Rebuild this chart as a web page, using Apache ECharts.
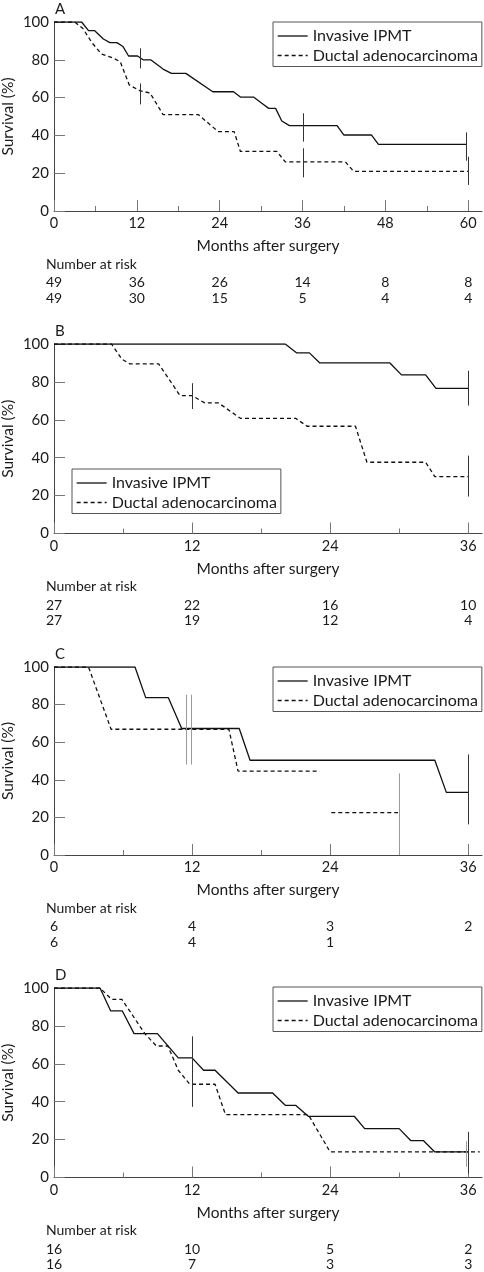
<!DOCTYPE html>
<html>
<head>
<meta charset="utf-8">
<script src="https://cdn.jsdelivr.net/npm/echarts@6/dist/echarts.min.js"></script>
<style>
  html, body { margin: 0; padding: 0; background: #fff; }
  #chart { width: 484px; height: 1272px; }
</style>
</head>
<body>
<div id="chart"></div>
<script>
// ---------------- DATA ----------------
const seriesNames = ['Invasive IPMT', 'Ductal adenocarcinoma'];
const panelLabels = ['A', 'B', 'C', 'D'];
const yAxisTitle = 'Survival (%)';
const xAxisTitle = 'Months after surgery';
const riskTitle = 'Number at risk';
const xTicksA = [0, 12, 24, 36, 48, 60];
const xMinorA = [6, 18, 30, 42, 54];
const xTicksBCD = [0, 12, 24, 36];
const xMinorBCD = [6, 18, 30];
const yTicks = [0, 20, 40, 60, 80, 100];

// Panel A  (months, survival %)
const ipmtA = [[0,100],[4,100],[5,95.4],[5.9,95.4],[7.15,91],[8.1,89.1],[9.1,89.1],[10,87],[10.8,82],[12.1,82],[12.9,80],[14,80],[15.8,75.1],[17,72.8],[19.1,72.8],[23,63.1],[26,63.1],[27,60.3],[28.9,60.3],[30.1,57],[31.1,54.3],[32.1,54.3],[33,47.6],[34.1,45.2],[41,45.2],[42,40.2],[46,40.2],[47,35.3],[59.7,35.3]];
const ductalA = [[0,100],[3,100],[4.2,96.5],[5.5,89],[6.9,83],[8.5,81],[9.6,79],[10.9,66.7],[12.5,63.5],[13.9,62.5],[15.8,51],[20.9,51],[22.5,46],[23.8,42],[26.1,42],[27,31.5],[32.3,31.5],[33.5,26],[42.2,26],[43.4,21],[60,21]];
const censorDarkA = [[12.46,75.5,86.1],[12.46,56.4,67.5],[36,36.7,51.7],[36,17.8,33.2],[59.7,26.6,41.6],[60,13.8,28.7]];
const censorLightA = [];
const riskIpmtA = [49, 36, 26, 14, 8, 8];
const riskDuctalA = [49, 30, 15, 5, 4, 4];

// Panel B
const ipmtB = [[0,100],[20.1,100],[21.1,95.3],[22.2,95.3],[23.1,90],[29.2,90],[30.2,83.7],[32.3,83.7],[33.2,76.6],[36,76.6]];
const ductalB = [[0,100],[5,100],[5.9,92],[6.6,89.5],[9.1,89.5],[10.95,72.8],[12,72.8],[13.1,68.9],[14.3,68.9],[16.2,60.8],[21,60.8],[22,56.6],[26.2,56.6],[27.2,37.6],[32.3,37.6],[33.1,30],[36,30]];
const censorDarkB = [[36,67.5,85.9],[12,65.7,79.3],[36,19.5,41.1]];
const censorLightB = [];
const riskIpmtB = [27, 22, 16, 10];
const riskDuctalB = [27, 19, 12, 4];

// Panel C
const ipmtC = [[0,100],[7.04,100],[7.97,83.7],[9.94,83.7],[11.1,67.3],[16.1,67.3],[17.04,50.4],[33.1,50.4],[34.1,33.3],[36,33.3]];
const ductalC = [[0,100],[3,100],[4.96,66.9],[15.2,66.9],[16,44.6],[23.1,44.6],[23.6,'-'],[24.1,22.5],[29.9,22.5]];
const censorDarkC = [[36,16.3,53.5]];
const censorLightC = [[11.45,48.1,85.3],[11.9,48.1,85.3],[30,0,43.4]];
const riskIpmtC = [6, 4, 3, 2];
const riskDuctalC = [6, 4, 1];

// Panel D
const ipmtD = [[0,100],[4,100],[4.93,87.9],[5.94,87.9],[6.96,75.9],[8.99,75.9],[10.8,63.1],[12,63.1],[13,56.6],[14,56.6],[16,44.6],[19,44.6],[20.1,38.1],[21,38.1],[22.1,32.3],[26.1,32.3],[27,25.8],[30,25.8],[31,19.5],[32.1,19.5],[33.1,13.5],[36,13.5]];
const ductalD = [[0,100],[4,100],[5,94],[5.9,94],[7.9,75.9],[8.9,69.4],[9.9,69.4],[10.8,56.6],[11.8,49.2],[14,49.2],[14.9,33.2],[22.1,33.2],[24,13.5],[37,13.5]];
const censorDarkD = [[12,37.3,74.5],[36,2.1,24.1]];
const censorLightD = [[35.8,5.6,19.2]];
const riskIpmtD = [16, 10, 5, 2];
const riskDuctalD = [16, 7, 3, 3];

// ---------------- LAYOUT / STYLE ----------------
const FONT = 'Lato, "Noto Sans", sans-serif';
const TXT = '#1a1a1a';
const AX = '#444';
const TICK = '#777';
const LINE = '#111';

const panels = [
  { top: 22,  height: 189,   max: 62,   ticks: xTicksA,   minor: xMinorA,   legend: {left: 273, top: 22},
    ipmt: ipmtA, ductal: ductalA, cDark: censorDarkA, cLight: censorLightA, r1: riskIpmtA, r2: riskDuctalA },
  { top: 344, height: 189.5, max: 37.2, ticks: xTicksBCD, minor: xMinorBCD, legend: {left: 72, top: 469},
    ipmt: ipmtB, ductal: ductalB, cDark: censorDarkB, cLight: censorLightB, r1: riskIpmtB, r2: riskDuctalB },
  { top: 667, height: 188,   max: 37.2, ticks: xTicksBCD, minor: xMinorBCD, legend: {left: 273, top: 667},
    ipmt: ipmtC, ductal: ductalC, cDark: censorDarkC, cLight: censorLightC, r1: riskIpmtC, r2: riskDuctalC },
  { top: 988, height: 189.5, max: 37.2, ticks: xTicksBCD, minor: xMinorBCD, legend: {left: 273, top: 987},
    ipmt: ipmtD, ductal: ductalD, cDark: censorDarkD, cLight: censorLightD, r1: riskIpmtD, r2: riskDuctalD }
];

const GRID_LEFT = 54, GRID_WIDTH = 428;

const grids = [], xAxes = [], yAxes = [], series = [], legends = [], graphics = [];

function censorSeries(data, color, xi, yi) {
  return {
    type: 'custom', name: 'censor', xAxisIndex: xi, yAxisIndex: yi,
    data: data, encode: { x: 0, y: [1, 2] }, silent: true, z: 3,
    renderItem: function (params, api) {
      const p1 = api.coord([api.value(0), api.value(1)]);
      const p2 = api.coord([api.value(0), api.value(2)]);
      const x = Math.round(p1[0]) + 0.5;
      return { type: 'line', shape: { x1: x, y1: p1[1], x2: x, y2: p2[1] },
               style: { stroke: color, lineWidth: 1 } };
    }
  };
}

panels.forEach((p, i) => {
  grids.push({ left: GRID_LEFT, top: p.top, width: GRID_WIDTH, height: p.height,
               containLabel: false, outerBoundsMode: 'none' });
  const base = { gridIndex: i, type: 'value', min: 0, max: p.max, position: 'bottom', splitLine: { show: false } };
  // main x axis
  xAxes.push(Object.assign({}, base, {
    name: xAxisTitle, nameLocation: 'middle', nameGap: 27,
    nameTextStyle: { fontFamily: FONT, fontSize: 15.5, color: TXT },
    axisLine: { show: true, lineStyle: { color: AX, width: 1 } },
    axisTick: { show: true, inside: true, length: 11, customValues: p.ticks, lineStyle: { color: TICK } },
    axisLabel: { show: true, customValues: p.ticks, margin: 5, fontFamily: FONT, fontSize: 14.5, color: TXT }
  }));
  // minor ticks
  xAxes.push(Object.assign({}, base, {
    axisLine: { show: false },
    axisTick: { show: true, inside: true, length: 5, customValues: p.minor, lineStyle: { color: TICK } },
    axisLabel: { show: false }
  }));
  // number-at-risk rows
  [p.r1, p.r2].forEach((arr, k) => {
    xAxes.push(Object.assign({}, base, {
      axisLine: { show: false }, axisTick: { show: false },
      axisLabel: { show: true, customValues: p.ticks.slice(0, arr.length), margin: 64.5 + k * 15.5,
        fontFamily: FONT, fontSize: 14, color: TXT,
        formatter: (v) => String(arr[Math.round(v / 12)]) }
    }));
  });
  yAxes.push({
    gridIndex: i, type: 'value', min: 0, max: 100, interval: 20,
    axisLine: { show: true, lineStyle: { color: AX, width: 1 } },
    axisTick: { show: true, inside: true, length: 11, lineStyle: { color: TICK } },
    axisLabel: { margin: 5, fontFamily: FONT, fontSize: 15, color: TXT },
    splitLine: { show: false }
  });
  const xi = i * 4;
  series.push({
    type: 'line', name: seriesNames[0], xAxisIndex: xi, yAxisIndex: i, data: p.ipmt,
    symbol: 'none', lineStyle: { color: LINE, width: 1.3, type: 'solid' }, itemStyle: { color: LINE }, z: 2
  });
  series.push({
    type: 'line', name: seriesNames[1], xAxisIndex: xi, yAxisIndex: i, data: p.ductal,
    symbol: 'none', connectNulls: false, lineStyle: { color: LINE, width: 1.3, type: [4, 3] }, itemStyle: { color: LINE }, z: 2
  });
  series.push(censorSeries(p.cDark, '#333', xi, i));
  series.push(censorSeries(p.cLight, '#9a9a9a', xi, i));

  legends.push({
    data: seriesNames, orient: 'vertical', left: p.legend.left, top: p.legend.top,
    padding: [6, 4, 3, 4], itemGap: 3.5, itemWidth: 30, itemHeight: 14,
    borderColor: '#555', borderWidth: 1, selectedMode: false,
    itemStyle: { color: 'transparent', borderColor: 'transparent', borderWidth: 0, opacity: 0 },
    lineStyle: { width: 1.3 },
    textStyle: { fontFamily: FONT, fontSize: 16, color: TXT, padding: [0, 0, 0, 0] }
  });

  graphics.push({
    type: 'text', left: 55, top: p.top - 20,
    style: { text: panelLabels[i], fontFamily: FONT, fontSize: 15, fill: TXT }
  });
  graphics.push({
    type: 'text', left: 46, top: p.top + p.height + 46,
    style: { text: riskTitle, fontFamily: FONT, fontSize: 14, fill: TXT }
  });
  graphics.push({
    type: 'text', x: 8, y: p.top + p.height / 2, rotation: Math.PI / 2,
    style: { text: yAxisTitle, fontFamily: FONT, fontSize: 15.5, fill: TXT,
             align: 'center', verticalAlign: 'middle' }
  });
});

const chart = echarts.init(document.getElementById('chart'), null, { renderer: 'canvas' });
chart.setOption({
  animation: false,
  backgroundColor: '#fff',
  grid: grids, xAxis: xAxes, yAxis: yAxes, series: series, legend: legends, graphic: graphics
});
</script>
</body>
</html>
